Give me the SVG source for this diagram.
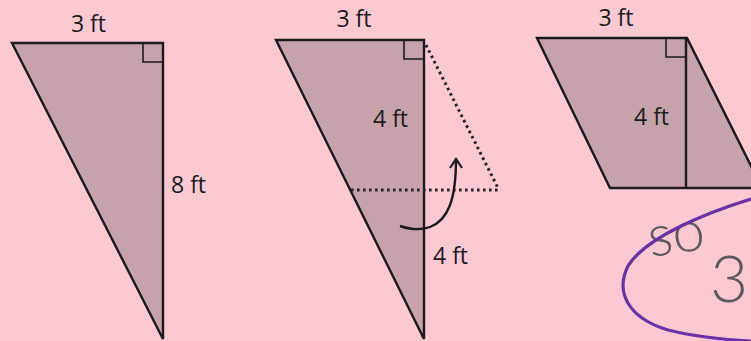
<svg xmlns="http://www.w3.org/2000/svg" width="751" height="341" viewBox="0 0 751 341">
  <defs>
    <style>
      .shape { fill: #c6a3aa; stroke: #1c1a1b; stroke-width: 2.4; stroke-linejoin: miter; }
      .edge { fill: none; stroke: #1c1a1b; stroke-width: 2.4; }
      .sq { fill: none; stroke: #1c1a1b; stroke-width: 1.6; }
      .dot { fill: none; stroke: #2a2226; stroke-width: 3; stroke-dasharray: 2.6 3.4; }
      .lbl { font-family: "Open Sans", "Noto Sans", "DejaVu Sans", sans-serif; font-size: 23px; fill: #1c1a1b; }
      .hand { font-family: "Lato", "Inter", "Open Sans", sans-serif; font-weight: 300; fill: #5e5a5c; }
    </style>
    <marker id="ah" viewBox="0 0 14 14" refX="12" refY="7" markerWidth="14" markerHeight="14" markerUnits="userSpaceOnUse" orient="auto">
      <path d="M3,1 L12,7 L3,13" fill="none" stroke="#1c1a1b" stroke-width="2.2"/>
    </marker>
  </defs>
  <rect x="0" y="0" width="751" height="341" fill="#fcc9d2"/>

  <g id="triangle-1">
    <polygon class="shape" points="12,43 163,43 163,339"/>
    <polyline class="sq" points="143,43 143,62 163,62"/>
    <text class="lbl" x="88.5" y="32" text-anchor="middle">3 ft</text>
    <text class="lbl" x="171" y="193">8 ft</text>
  </g>

  <g id="triangle-2">
    <polygon class="shape" points="276,40 424,40 424,339"/>
    <polyline class="sq" points="404,40 404,59 424,59"/>
    <text class="lbl" x="354" y="27" text-anchor="middle">3 ft</text>
    <text class="lbl" x="373" y="127">4 ft</text>
    <text class="lbl" x="433" y="264">4 ft</text>
  </g>

  <g id="connectors">
    <line class="dot" x1="426" y1="45" x2="498" y2="188"/>
    <line class="dot" x1="351" y1="190" x2="499" y2="190"/>
    <path class="edge" d="M400,226 C412,230 422,230 430,227 C448,220 456,200 456,159" marker-end="url(#ah)"/>
  </g>

  <g id="parallelogram">
    <polygon class="shape" points="537,38 687,38 762,188 610,188"/>
    <line class="edge" x1="686" y1="38" x2="686" y2="188"/>
    <polyline class="sq" points="666,38 666,57 686,57"/>
    <text class="lbl" x="616" y="26" text-anchor="middle">3 ft</text>
    <text class="lbl" x="634" y="125">4 ft</text>
  </g>

  <g id="handwriting">
    <text class="hand" x="648" y="253" font-size="58" transform="rotate(-8 678 238)">so</text>
    <text class="hand" x="710" y="302" font-size="66">3</text>
    <path d="M751,199 C705,213 645,238 628,266 C615,292 628,318 668,330 C700,338 730,340 751,341" fill="none" stroke="#6a32a6" stroke-width="3.2" stroke-linecap="round"/>
  </g>
</svg>
